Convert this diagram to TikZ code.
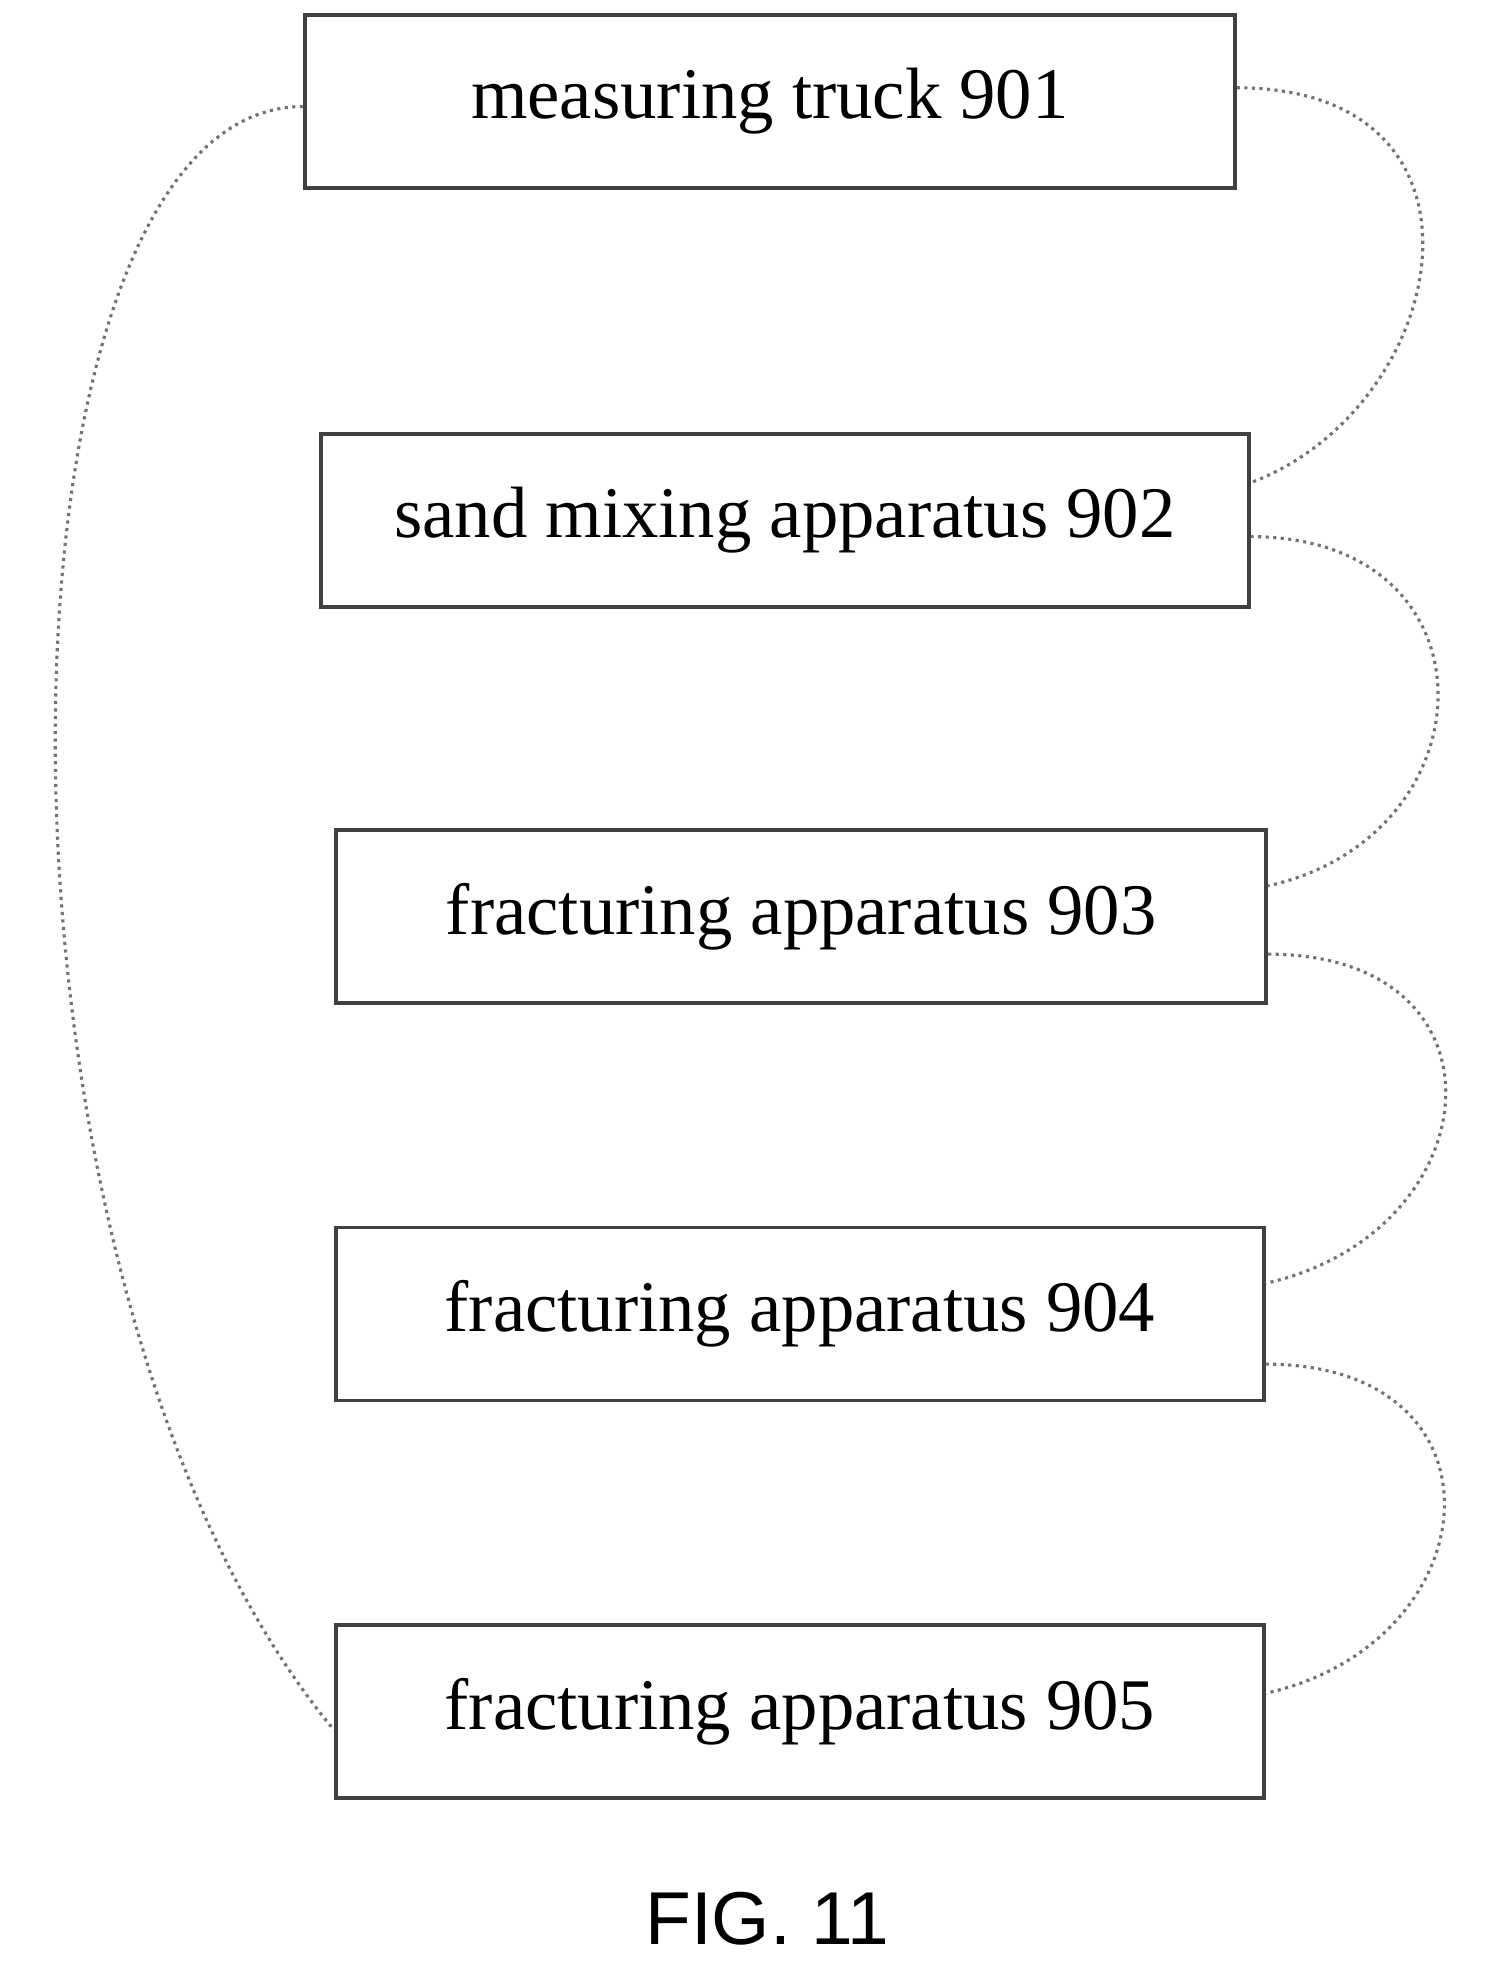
\documentclass[tikz,border=0pt]{standalone}
\usepackage{fontspec}
\setmainfont{Liberation Serif}
\setsansfont{Liberation Sans}
\usetikzlibrary{calc}

\begin{document}
\begin{tikzpicture}[%
        x = 0.02cm,
        y = -0.02cm,
        line width = 0.5mm,
        unit/.style = {draw = black!75, line width = 0.6mm, minimum height = 2.76cm,
            inner sep = 0pt, font = \fontsize{33}{40}\selectfont},
        link/.style = {draw = black!55, dotted, line width = 0.5mm},
    ]

        % Page size.
        \useasboundingbox (0, 0) rectangle (1186, 1576);

        % The five units.
        \node[unit, minimum width = 14.84cm] (truck) at (614, 81) {measuring truck 901};
        \node[unit, minimum width = 14.80cm] (mixer) at (626, 415) {sand mixing apparatus 902};
        \node[unit, minimum width = 14.84cm] (frac3) at (639, 731) {fracturing apparatus 903};
        \node[unit, minimum width = 14.80cm] (frac4) at (638, 1048) {fracturing apparatus 904};
        \node[unit, minimum width = 14.80cm] (frac5) at (638, 1365) {fracturing apparatus 905};

        % Connections on the right side.
        \draw[link] ([yshift = 0.22cm] truck.east) .. controls +(220, 0) and +(160, -60) .. ([yshift = 0.6cm] mixer.east);
        \draw[link] ([yshift = -0.26cm] mixer.east) .. controls +(200, 0) and +(180, -40) .. ([yshift = 1.9cm] frac3.south east);
        \draw[link] ([yshift = -0.6cm] frac3.east) .. controls +(200, 0) and +(180, -40) .. ([yshift = 1.9cm] frac4.south east);
        \draw[link] ([yshift = -0.8cm] frac4.east) .. controls +(200, 0) and +(180, -40) .. ([yshift = 1.7cm] frac5.south east);

        % Connection on the left side.
        \draw[link] ([yshift = -0.08cm] truck.west) .. controls +(-260, 0) and +(-300, -360) .. ([yshift = -0.3cm] frac5.west);

        % Caption.
        \node[font = \sffamily\fontsize{34}{40}\selectfont] (caption) at (612, 1530) {FIG. 11};
    \end{tikzpicture}
\end{document}
